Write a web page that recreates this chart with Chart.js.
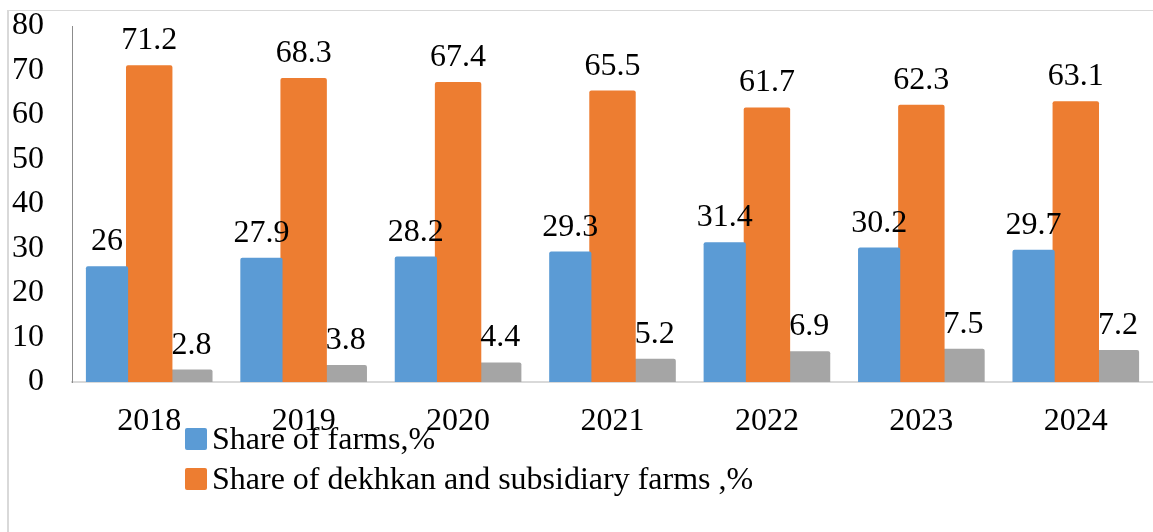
<!DOCTYPE html>
<html>
<head>
<meta charset="utf-8">
<script src="https://cdn.jsdelivr.net/npm/chart.js@4.4.1/dist/chart.umd.min.js"></script>
<style>
  html, body { margin: 0; padding: 0; background: #fff; overflow: hidden; }
  #wrap { position: relative; width: 1153px; height: 532px; }
  #frame {
    position: absolute; left: 7px; top: 10px; width: 1200px; height: 600px;
    border-left: 2px solid #d9d9d9; border-top: 1px solid #d9d9d9;
  }
  canvas { position: absolute; left: 0; top: 0; }
</style>
</head>
<body>
<div id="wrap">
  <div id="frame"></div>
  <canvas id="chart" width="1153" height="532"></canvas>
</div>
<script>
// data
const years = ['2018', '2019', '2020', '2021', '2022', '2023', '2024'];
const farmsShare = [26, 27.9, 28.2, 29.3, 31.4, 30.2, 29.7];
const dekhkanShare = [71.2, 68.3, 67.4, 65.5, 61.7, 62.3, 63.1];
const otherShare = [2.8, 3.8, 4.4, 5.2, 6.9, 7.5, 7.2];
const yTicks = [0, 10, 20, 30, 40, 50, 60, 70, 80];

const SERIF = '"Liberation Serif", "Times New Roman", serif';
const FONT_PX = 32;
const BLUE = '#5B9BD5';
const ORANGE = '#ED7D31';
const GRAY = '#A5A5A5';

// value labels above each bar
const valueLabels = {
  id: 'valueLabels',
  afterDatasetsDraw(chart) {
    const ctx = chart.ctx;
    ctx.save();
    ctx.font = FONT_PX + 'px ' + SERIF;
    ctx.fillStyle = '#000';
    ctx.textAlign = 'center';
    ctx.textBaseline = 'alphabetic';
    chart.data.datasets.forEach((ds, i) => {
      chart.getDatasetMeta(i).data.forEach((bar, j) => {
        ctx.fillText(String(ds.data[j]), bar.x, bar.y - 16);
      });
    });
    ctx.restore();
  },
};

// two-row legend under the axis (third series is not listed)
const stackedLegend = {
  id: 'stackedLegend',
  afterDraw(chart) {
    const ctx = chart.ctx;
    const rows = [
      { y: 439, idx: 0 },
      { y: 479, idx: 1 },
    ];
    ctx.save();
    ctx.font = FONT_PX + 'px ' + SERIF;
    ctx.textBaseline = 'alphabetic';
    ctx.textAlign = 'left';
    rows.forEach((r) => {
      const ds = chart.data.datasets[r.idx];
      ctx.fillStyle = ds.backgroundColor;
      ctx.beginPath();
      ctx.roundRect(185, r.y - 11, 22, 22, 2);
      ctx.fill();
      ctx.fillStyle = '#000';
      ctx.fillText(ds.label, 212, r.y + 10);
    });
    ctx.restore();
  },
};

const barStyle = {
  borderRadius: { topLeft: 2, topRight: 2 },
  borderSkipped: 'start',
  categoryPercentage: 0.82,
  barPercentage: 1.0,
};

new Chart(document.getElementById('chart'), {
  type: 'bar',
  data: {
    labels: years,
    datasets: [
      { label: 'Share of farms,%', data: farmsShare, backgroundColor: BLUE, ...barStyle },
      // orange bars are a touch wider in the original
      { label: 'Share of dekhkan and subsidiary farms ,%', data: dekhkanShare, backgroundColor: ORANGE, ...barStyle, barPercentage: 1.1 },
      { label: 'Share of other producers,%', data: otherShare, backgroundColor: GRAY, ...barStyle },
    ],
  },
  options: {
    responsive: false,
    animation: false,
    devicePixelRatio: 1,
    layout: { padding: { top: 26, left: 0, right: 0, bottom: 0 } },
    plugins: {
      legend: { display: false },
      tooltip: { enabled: false },
    },
    scales: {
      x: {
        grid: { display: false, drawTicks: false },
        border: { display: true, color: '#d9d9d9', width: 2 },
        ticks: {
          color: '#000',
          font: { family: SERIF, size: FONT_PX },
          padding: 20,
          maxRotation: 0,
        },
        afterFit(scale) {
          scale.height = 150;
          scale.paddingLeft = 0;
          scale.paddingRight = 0;
        },
      },
      y: {
        min: 0,
        max: 80,
        afterBuildTicks(scale) { scale.ticks = yTicks.map((v) => ({ value: v })); },
        grid: { display: false, drawTicks: false },
        border: { display: true, color: '#8c8c8c', width: 1 },
        ticks: {
          color: '#000',
          font: { family: SERIF, size: FONT_PX },
          padding: 28,
        },
        afterFit(scale) {
          scale.width = 72;
          scale.paddingTop = 0;
          scale.paddingBottom = 0;
        },
      },
    },
  },
  plugins: [valueLabels, stackedLegend],
});
</script>
</body>
</html>
